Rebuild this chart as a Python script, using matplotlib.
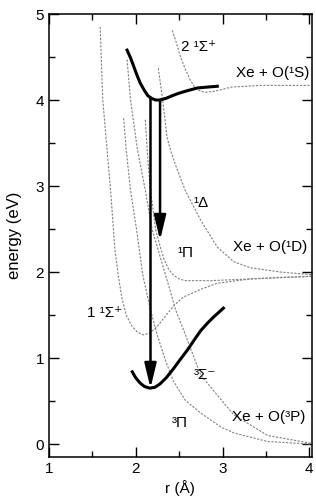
import matplotlib
matplotlib.use('Agg')
import matplotlib.pyplot as plt
from matplotlib.ticker import MultipleLocator

plt.rcParams['font.family'] = ['Liberation Sans', 'DejaVu Sans']

# 점선 퍼텐셜 곡선 (r, E)
s1_r = [1.59, 1.62, 1.71, 1.76, 1.80, 1.84, 1.89, 1.95, 2.02, 2.09, 2.16, 2.25, 2.35, 2.45, 2.55, 2.75, 2.94, 3.32, 3.70, 4.02]
s1_e = [4.85, 4.00, 2.95, 2.26, 1.95, 1.70, 1.50, 1.38, 1.30, 1.27, 1.29, 1.37, 1.50, 1.62, 1.71, 1.80, 1.87, 1.92, 1.94, 1.95]

p3_r = [1.86, 1.89, 1.94, 2.01, 2.08, 2.17, 2.25, 2.34, 2.43, 2.57, 2.75, 2.98, 3.13, 3.52, 4.02]
p3_e = [3.79, 3.42, 2.95, 2.49, 1.97, 1.56, 1.26, 0.98, 0.74, 0.51, 0.36, 0.20, 0.13, 0.03, 0.0]

sg3_r = [1.90, 1.94, 2.02, 2.11, 2.19, 2.31, 2.36, 2.46, 2.55, 2.75, 2.98, 3.13, 3.52, 4.02]
sg3_e = [4.47, 4.00, 3.42, 2.95, 2.49, 2.08, 1.91, 1.56, 1.33, 0.80, 0.52, 0.34, 0.10, 0.01]

p1_r = [2.11, 2.14, 2.17, 2.23, 2.28, 2.33, 2.38, 2.44, 2.50, 2.57, 2.86, 3.32, 4.02]
p1_e = [3.77, 3.30, 2.95, 2.49, 2.30, 2.14, 2.03, 1.96, 1.92, 1.90, 1.90, 1.92, 1.95]

d1_r = [2.26, 2.31, 2.36, 2.40, 2.46, 2.57, 2.75, 2.94, 3.13, 3.32, 3.67, 4.02]
d1_e = [4.37, 4.00, 3.57, 3.42, 3.24, 2.95, 2.60, 2.29, 2.12, 2.05, 2.00, 1.97]

s2_r = [2.42, 2.47, 2.51, 2.57, 2.63, 2.68, 2.73, 2.80, 2.90, 3.10, 3.44, 4.02]
s2_e = [4.81, 4.66, 4.52, 4.36, 4.23, 4.15, 4.11, 4.09, 4.10, 4.15, 4.17, 4.17]

# 굵은 곡선
up_r = [1.90, 1.94, 1.97, 2.01, 2.05, 2.10, 2.14, 2.18, 2.23, 2.28, 2.35, 2.42, 2.50, 2.60, 2.71, 2.82, 2.94]
up_e = [4.58, 4.49, 4.41, 4.30, 4.20, 4.11, 4.05, 4.02, 4.00, 4.00, 4.02, 4.05, 4.08, 4.11, 4.14, 4.15, 4.16]

lo_r = [1.96, 2.00, 2.05, 2.10, 2.16, 2.22, 2.28, 2.35, 2.43, 2.51, 2.60, 2.68, 2.75, 2.83, 2.90, 3.01]
lo_e = [0.84, 0.77, 0.71, 0.67, 0.65, 0.66, 0.70, 0.77, 0.87, 0.98, 1.10, 1.22, 1.32, 1.41, 1.48, 1.58]

# 화살표 (r, 시작 E, 끝 E)
arrows = [(2.17, 4.03, 0.65), (2.28, 4.00, 2.37)]

fig = plt.figure(figsize=(3.16, 5.0), dpi=100)
ax = fig.add_axes([0.155, 0.086, 0.832, 0.886])

dash = dict(color='#808080', lw=0.8, ls=(0, (2, 1.3)))
for r, e in [(s1_r, s1_e), (p3_r, p3_e), (sg3_r, sg3_e), (p1_r, p1_e), (d1_r, d1_e), (s2_r, s2_e)]:
    ax.plot(r, e, **dash)

ax.plot(up_r, up_e, color='k', lw=2.2, solid_joinstyle='round')
ax.plot(lo_r, lo_e, color='k', lw=2.2, solid_joinstyle='round')

for r, e0, e1 in arrows:
    ax.annotate('', xy=(r, e1), xytext=(r, e0),
                arrowprops=dict(arrowstyle='-|>,head_length=1.5,head_width=0.36',
                                mutation_scale=10, lw=1.8, color='k',
                                shrinkA=0, shrinkB=0))

fs = 11
ax.text(2.72, 4.62, '2 ¹Σ⁺', fontsize=fs, ha='center', va='center')
ax.text(4.0, 4.31, 'Xe + O(¹S)', fontsize=fs, ha='right', va='center')
ax.text(2.75, 2.80, '¹Δ', fontsize=fs, ha='center', va='center')
ax.text(2.57, 2.22, '¹Π', fontsize=fs, ha='center', va='center')
ax.text(3.98, 2.29, 'Xe + O(¹D)', fontsize=fs, ha='right', va='center')
ax.text(1.64, 1.52, '1 ¹Σ⁺', fontsize=fs, ha='center', va='center')
ax.text(2.80, 0.80, '³Σ⁻', fontsize=fs, ha='center', va='center')
ax.text(2.51, 0.24, '³Π', fontsize=fs, ha='center', va='center')
ax.text(3.96, 0.31, 'Xe + O(³P)', fontsize=fs, ha='right', va='center')

ax.set_xlim(1, 4.03)
ax.set_ylim(-0.15, 5.0)
ax.xaxis.set_major_locator(MultipleLocator(1))
ax.xaxis.set_minor_locator(MultipleLocator(0.5))
ax.yaxis.set_major_locator(MultipleLocator(1))
ax.yaxis.set_minor_locator(MultipleLocator(0.5))
ax.tick_params(which='both', direction='in', top=True, right=True, labelsize=11, width=1)
ax.tick_params(which='major', length=7)
ax.tick_params(which='minor', length=4)
for sp in ax.spines.values():
    sp.set_linewidth(1.1)

ax.set_xlabel('r (Å)', fontsize=11, labelpad=3)
ax.set_ylabel('energy (eV)', fontsize=12, labelpad=10)

fig.savefig('out.png', dpi=100)
